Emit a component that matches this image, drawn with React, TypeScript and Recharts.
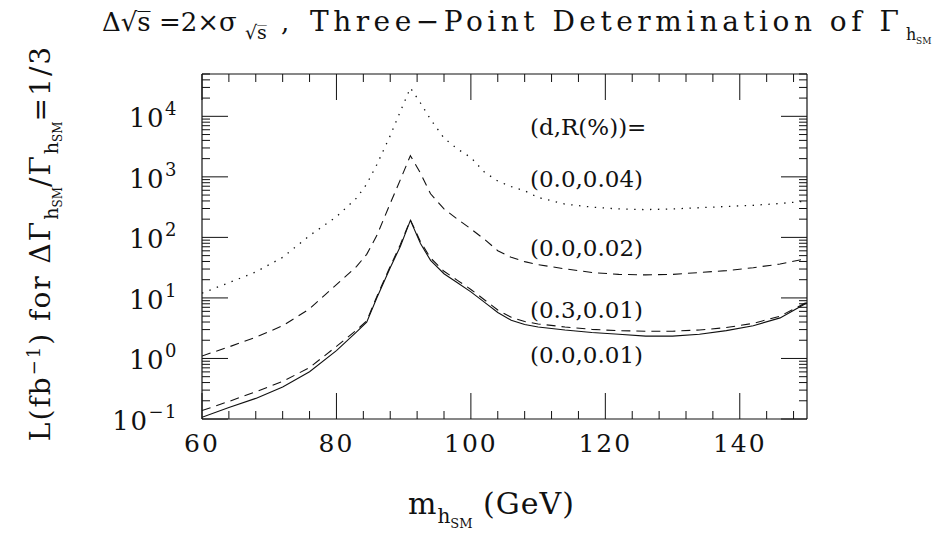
import React from 'react';
import { LineChart, Line, XAxis, YAxis } from 'recharts';

// ---- data ----
const massGeV = [60, 64, 68, 72, 76, 80, 83, 84.5, 86, 88, 89.5, 91, 92.5, 94, 96, 98, 100, 102, 104, 106, 108, 110, 114, 118, 122, 126, 130, 134, 138, 142, 146, 150];

// (d,R(%)) = (0.0,0.04)  dotted
const lumiD00R004 = [12.0, 17.8, 26.9, 46.8, 107, 219, 447, 759, 1585, 4790, 12000, 29500, 16600, 8910, 4370, 2880, 2090, 1200, 851, 692, 589, 457, 355, 316, 295, 288, 295, 309, 324, 339, 363, 398];
// (0.0,0.02) dashed
const lumiD00R002 = [1.10, 1.55, 2.24, 3.47, 6.61, 16.6, 33.1, 52.5, 107, 363, 891, 2240, 1150, 525, 295, 200, 138, 93.3, 60.3, 46.8, 39.8, 35.5, 30.2, 26.3, 24.5, 24.0, 24.5, 26.3, 28.2, 31.6, 36.3, 44.7];
// (0.3,0.01) dashed
const lumiD03R001 = [0.138, 0.195, 0.282, 0.417, 0.708, 1.58, 2.95, 4.17, 10.5, 33.1, 75.9, 195, 85.1, 45.7, 27.5, 19.5, 13.8, 9.33, 6.31, 4.79, 4.07, 3.72, 3.31, 3.02, 2.88, 2.82, 2.82, 2.95, 3.24, 3.80, 5.01, 8.51];
// (0.0,0.01) solid
const lumiD00R001 = [0.107, 0.155, 0.219, 0.339, 0.603, 1.35, 2.75, 3.98, 10.0, 31.6, 70.8, 191, 79.4, 41.7, 25.1, 17.8, 12.6, 8.51, 5.75, 4.27, 3.63, 3.31, 2.95, 2.69, 2.51, 2.34, 2.34, 2.51, 2.88, 3.47, 4.68, 8.32];

const seriesLabels = ['(0.0,0.04)', '(0.0,0.02)', '(0.3,0.01)', '(0.0,0.01)'];
const legendHeader = '(d,R(%))=';

const xMajorTicks = [60, 80, 100, 120, 140];
const xAllTicks = [60, 64, 68, 72, 76, 80, 84, 88, 92, 96, 100, 104, 108, 112, 116, 120, 124, 128, 132, 136, 140, 144, 148];

const yDecades = [0.1, 1, 10, 100, 1000, 10000];
const yDecadeExponents = ['\u22121', '0', '1', '2', '3', '4'];
const yMinorMultipliers = [2, 3, 4, 5, 6, 7, 8, 9];
const yTopLimit = 50000;

const yAllTicks = yDecades
  .flatMap((d) => [d, ...yMinorMultipliers.map((k) => d * k)])
  .filter((v) => v <= yTopLimit * 1.0001);

const rows = massGeV.map((m, i) => ({
  m,
  a: lumiD00R004[i],
  b: lumiD00R002[i],
  c: lumiD03R001[i],
  d: lumiD00R001[i],
}));

const INK = '#111';
const FONT = '"DejaVu Serif", "Liberation Serif", serif';
const MAJOR = 26;
const MINOR = 8;

const isXMajor = (v: number) => xMajorTicks.includes(v);
const yMajorIndex = (v: number) => yDecades.findIndex((d) => Math.abs(d - v) / d < 1e-6);

const BottomTick = (p: any) => {
  const { x, y, payload } = p;
  const major = isXMajor(payload.value);
  return (
    <g>
      <line x1={x} x2={x} y1={y} y2={y - (major ? MAJOR : MINOR)} stroke={INK} strokeWidth={1} />
      {major && (
        <text x={x} y={y + 33} textAnchor="middle" fontFamily={FONT} fontSize={25} letterSpacing={2} fill={INK}>
          {payload.value}
        </text>
      )}
    </g>
  );
};

const TopTick = (p: any) => {
  const { x, y, payload } = p;
  const major = isXMajor(payload.value);
  return <line x1={x} x2={x} y1={y} y2={y + (major ? MAJOR : MINOR)} stroke={INK} strokeWidth={1} />;
};

const LeftTick = (p: any) => {
  const { x, y, payload } = p;
  const idx = yMajorIndex(payload.value);
  const major = idx >= 0;
  return (
    <g>
      <line x1={x} x2={x + (major ? MAJOR : MINOR)} y1={y} y2={y} stroke={INK} strokeWidth={1} />
      {major && (
        <text x={x - 24} y={y + 11} textAnchor="end" fontFamily={FONT} fontSize={26} letterSpacing={1.5} fill={INK}>
          10
          <tspan dy={-12} fontSize={18}>
            {yDecadeExponents[idx]}
          </tspan>
        </text>
      )}
    </g>
  );
};

const RightTick = (p: any) => {
  const { x, y, payload } = p;
  const major = yMajorIndex(payload.value) >= 0;
  return <line x1={x} x2={x - (major ? MAJOR : MINOR)} y1={y} y2={y} stroke={INK} strokeWidth={1} />;
};

export default function App() {
  return (
    <div style={{ position: 'absolute', left: 0, top: 0, width: 932, height: 537, background: '#fff' }}>
      <LineChart
        width={932}
        height={537}
        data={rows}
        margin={{ top: 64, right: 115, bottom: 88, left: 142 }}
      >
        <XAxis
          xAxisId="b"
          dataKey="m"
          type="number"
          domain={[60, 150]}
          allowDataOverflow
          ticks={xAllTicks}
          interval={0}
          tickSize={0}
          tickMargin={0}
          tickLine={false}
          axisLine={{ stroke: INK, strokeWidth: 1.2 }}
          tick={(p: any) => <BottomTick {...p} />}
          height={30}
          orientation="bottom"
        />
        <XAxis
          xAxisId="t"
          dataKey="m"
          type="number"
          domain={[60, 150]}
          allowDataOverflow
          ticks={xAllTicks}
          interval={0}
          tickSize={0}
          tickMargin={0}
          tickLine={false}
          axisLine={{ stroke: INK, strokeWidth: 1.2 }}
          tick={(p: any) => <TopTick {...p} />}
          height={10}
          orientation="top"
        />
        <YAxis
          yAxisId="l"
          type="number"
          scale="log"
          domain={[0.1, yTopLimit]}
          allowDataOverflow
          ticks={yAllTicks}
          interval={0}
          tickSize={0}
          tickMargin={0}
          tickLine={false}
          axisLine={{ stroke: INK, strokeWidth: 1.2 }}
          tick={(p: any) => <LeftTick {...p} />}
          width={60}
          orientation="left"
        />
        <YAxis
          yAxisId="r"
          type="number"
          scale="log"
          domain={[0.1, yTopLimit]}
          allowDataOverflow
          ticks={yAllTicks}
          interval={0}
          tickSize={0}
          tickMargin={0}
          tickLine={false}
          axisLine={{ stroke: INK, strokeWidth: 1.2 }}
          tick={(p: any) => <RightTick {...p} />}
          width={10}
          orientation="right"
        />
        <Line xAxisId="b" yAxisId="l" type="linear" dataKey="a" stroke={INK} strokeWidth={1.3} strokeDasharray="1.4 6.5" dot={false} isAnimationActive={false} />
        <Line xAxisId="b" yAxisId="l" type="linear" dataKey="b" stroke={INK} strokeWidth={1.1} strokeDasharray="9 6" dot={false} isAnimationActive={false} />
        <Line xAxisId="b" yAxisId="l" type="linear" dataKey="c" stroke={INK} strokeWidth={1.1} strokeDasharray="9 6" dot={false} isAnimationActive={false} />
        <Line xAxisId="b" yAxisId="l" type="linear" dataKey="d" stroke={INK} strokeWidth={1.1} dot={false} isAnimationActive={false} />
      </LineChart>
      <svg
        width={932}
        height={537}
        style={{ position: 'absolute', left: 0, top: 0, pointerEvents: 'none' }}
        fontFamily={FONT}
        fill={INK}
      >
        <text x={102} y={31} fontSize={26}>
          {'\u0394\u221As\u0305 =2\u00D7\u03C3'}
          <tspan x={245} dy={8} fontSize={19}>{'\u221As\u0305'}</tspan>
          <tspan x={281} dy={-8} fontSize={26}>{','}</tspan>
          <tspan x={310} fontSize={28} letterSpacing={4.5}>{'Three\u2212Point Determination of \u0393'}</tspan>
          <tspan x={906} dy={9} fontSize={16} letterSpacing={0}>h</tspan>
          <tspan x={916} dy={4} fontSize={9} letterSpacing={0}>SM</tspan>
        </text>
        <text transform="translate(50,243) rotate(-90)" textAnchor="middle" fontSize={28} letterSpacing={2}>
          {'L(fb'}
          <tspan dy={-10} fontSize={18}>{'\u22121'}</tspan>
          <tspan dy={10} fontSize={28}>{') for \u0394\u0393'}</tspan>
          <tspan dy={8} fontSize={19} letterSpacing={0}>h</tspan>
          <tspan dy={4} fontSize={12} letterSpacing={0}>SM</tspan>
          <tspan dy={-12} fontSize={28}>{'/\u0393'}</tspan>
          <tspan dy={8} fontSize={19} letterSpacing={0}>h</tspan>
          <tspan dy={4} fontSize={12} letterSpacing={0}>SM</tspan>
          <tspan dy={-12} fontSize={28}>{'=1/3'}</tspan>
        </text>
        <text x={408} y={514} fontSize={30} letterSpacing={1}>
          m
          <tspan dy={9} fontSize={20} letterSpacing={0}>h</tspan>
          <tspan dy={5} fontSize={13} letterSpacing={0}>SM</tspan>
          <tspan dy={-14} fontSize={30}>{' (GeV)'}</tspan>
        </text>
        <text x={530} y={135} fontSize={23}>{legendHeader}</text>
        <text x={530} y={187} fontSize={23}>{seriesLabels[0]}</text>
        <text x={530} y={256} fontSize={23}>{seriesLabels[1]}</text>
        <text x={530} y={318} fontSize={23}>{seriesLabels[2]}</text>
        <text x={530} y={363} fontSize={23}>{seriesLabels[3]}</text>
      </svg>
    </div>
  );
}
